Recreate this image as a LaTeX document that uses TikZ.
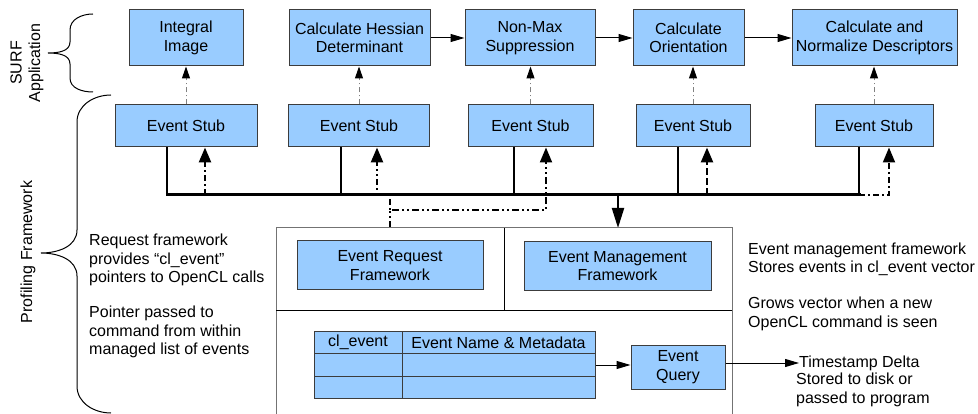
\documentclass[tikz,border=0pt]{standalone}
\usepackage{fontspec}
\setmainfont{Liberation Sans}
\usetikzlibrary{arrows.meta}

\definecolor{boxblue}{RGB}{153,204,255}
\definecolor{boxline}{RGB}{60,60,60}

\begin{document}
\begin{tikzpicture}[x=1pt, y=-1pt,
  every node/.style={font=\fontsize{16}{18.5}\selectfont, inner sep=0pt},
  blk/.style={rectangle, draw=boxline, fill=boxblue, line width=1pt, align=center, minimum height=56pt},
  stub/.style={blk, minimum height=42pt},
  cell/.style={rectangle, draw=boxline, fill=boxblue, line width=1pt, minimum height=22.5pt},
  txt/.style={align=left, anchor=west},
  flow/.style={line width=1pt, -{Triangle[length=14pt,width=8pt]}},
  hint/.style={draw=gray, line width=1pt, dash pattern=on 5pt off 3pt on 1pt off 3pt, -{Triangle[length=12pt,width=8pt,black]}},
  up/.style={line width=2.5pt, -{Triangle[length=15pt,width=12pt]}}]
  \useasboundingbox (0,0) rectangle (978,414);

  % SURF steps
  \node[blk, minimum width=114pt] (a1) at (186,38) {Integral\\Image};
  \node[blk, minimum width=141pt] (a2) at (359.5,38) {Calculate Hessian\\Determinant};
  \node[blk, minimum width=130pt] (a3) at (530,38) {Non-Max\\Suppression};
  \node[blk, minimum width=111pt] (a4) at (688.5,38) {Calculate\\Orientation};
  \node[blk, minimum width=165pt] (a5) at (874.5,38) {Calculate and\\Normalize Descriptors};

  \draw[flow] (a2.east) -- (a3.west);
  \draw[flow] (a3.east) -- (a4.west);
  \draw[flow] (a4.east) -- (a5.west);

  % event stubs
  \node[stub, minimum width=142pt] (s1) at (186,126) {Event Stub};
  \node[stub, minimum width=141pt] (s2) at (359,126) {Event Stub};
  \node[stub, minimum width=125pt] (s3) at (530.5,126) {Event Stub};
  \node[stub, minimum width=114pt] (s4) at (693,126) {Event Stub};
  \node[stub, minimum width=118pt] (s5) at (874,126) {Event Stub};

  \draw[hint] (s1.north) -- (s1.north |- a1.south);
  \draw[hint] (s2.north) -- (s2.north |- a2.south);
  \draw[hint] (s3.north) -- (s3.north |- a3.south);
  \draw[hint] (s4.north) -- (s4.north |- a4.south);
  \draw[hint] (s5.north) -- (s5.north |- a5.south);

  % bus
  \coordinate (b1) at (167,195);
  \coordinate (b2) at (341,195);
  \coordinate (b3) at (514,195);
  \coordinate (b4) at (678,195);
  \coordinate (b5) at (859,195);
  \draw[line width=3pt, line cap=rect] (b1) -- (b5);
  \draw[line width=2pt] (s1.south -| b1) -- (b1);
  \draw[line width=2pt] (s2.south -| b2) -- (b2);
  \draw[line width=2pt] (s3.south -| b3) -- (b3);
  \draw[line width=2pt] (s4.south -| b4) -- (b4);
  \draw[line width=2pt] (s5.south -| b5) -- (b5);

  \coordinate (u1) at (205,195);
  \coordinate (u2) at (377,195);
  \coordinate (u3) at (546,210);
  \coordinate (u4) at (707,195);
  \coordinate (u5) at (889,195);
  \coordinate (rq) at (390,228);
  \draw[up, dash pattern=on 6pt off 3pt on 2pt off 3pt] (u1) -- (s1.south -| u1);
  \draw[up, dash pattern=on 2pt off 3pt on 2pt off 3pt on 6pt off 3pt] (u2) -- (s2.south -| u2);
  \draw[up, line width=2pt, dash pattern=on 7pt off 3pt on 2pt off 3pt on 2pt off 3pt] (rq) |- (u3) -- (s3.south -| u3);
  \draw[line width=2pt, dash pattern=on 2pt off 3pt on 6pt off 3pt] (rq |- u3) -- (rq |- b1);
  \draw[up, dash pattern=on 7pt off 3pt] (u4) -- (s4.south -| u4);
  \draw[up, line width=2pt, dash pattern=on 6pt off 3pt on 2pt off 3pt] (b5) -- (u5) -- (s5.south -| u5);

  % profiling framework
  \coordinate (d1) at (618,195);
  \coordinate (d2) at (618,228);
  \draw[line width=2pt, -{Triangle[length=20pt,width=12pt]}] (d1) -- (d2);

  \draw[line width=1pt, black!55] (276,414) |- (732,228) -- (732,414);
  \draw[line width=1pt] (276,311) -- (732,311);
  \draw[line width=1pt] (504,228) -- (504,311);

  \node[blk, minimum width=186pt, minimum height=49pt] (req) at (390,265.5) {Event Request\\Framework};
  \node[blk, minimum width=187pt, minimum height=49pt] (mgt) at (617.5,266) {Event Management\\Framework};

  \node[cell, minimum width=88pt] (t11) at (358,342.5) {cl\_event};
  \node[cell, minimum width=193pt] (t12) at (498.5,342.5) {Event Name \& Metadata};
  \node[cell, minimum width=88pt] (t21) at (358,365) {};
  \node[cell, minimum width=193pt] (t22) at (498.5,365) {};
  \node[cell, minimum width=88pt] (t31) at (358,387.5) {};
  \node[cell, minimum width=193pt] (t32) at (498.5,387.5) {};

  \node[blk, minimum width=94pt, minimum height=44pt] (q) at (678,367) {Event\\Query};
  \draw[flow] (t22.east) -- (t22.east -| q.west);

  \node[txt] (ts) at (799,363) {Timestamp Delta};
  \node[txt] (st) at (796,390) {Stored to disk or\\passed to program};
  \draw[flow] (q.east |- ts.west) -- (ts.west);

  % notes
  \node[txt] (l1) at (89,260) {Request framework\\provides “cl\_event”\\pointers to OpenCL calls};
  \node[txt] (l2) at (89,332) {Pointer passed to\\command from within\\managed list of events};
  \node[txt] (r1) at (748,259.5) {Event management framework\\Stores events in cl\_event vector};
  \node[txt] (r2) at (748,314) {Grows vector when a new\\OpenCL command is seen};

  % braces
  \draw[line width=1pt] (93,14) to[out=180,in=90] (70,30) -- (70,42) to[out=-90,in=0] (48,53)
    to[out=0,in=90] (70,64) -- (70,78) to[out=-90,in=180] (93,92);
  \draw[line width=1pt] (111,95) to[out=180,in=90] (77,122) -- (77,230) to[out=-90,in=0] (41,253)
    to[out=0,in=90] (77,276) -- (77,386) to[out=-90,in=180] (111,413);
  \node[rotate=90, align=center] (surf) at (27,63) {SURF\\Application};
  \node[rotate=90] (prof) at (28,252) {Profiling Framework};
\end{tikzpicture}
\end{document}
